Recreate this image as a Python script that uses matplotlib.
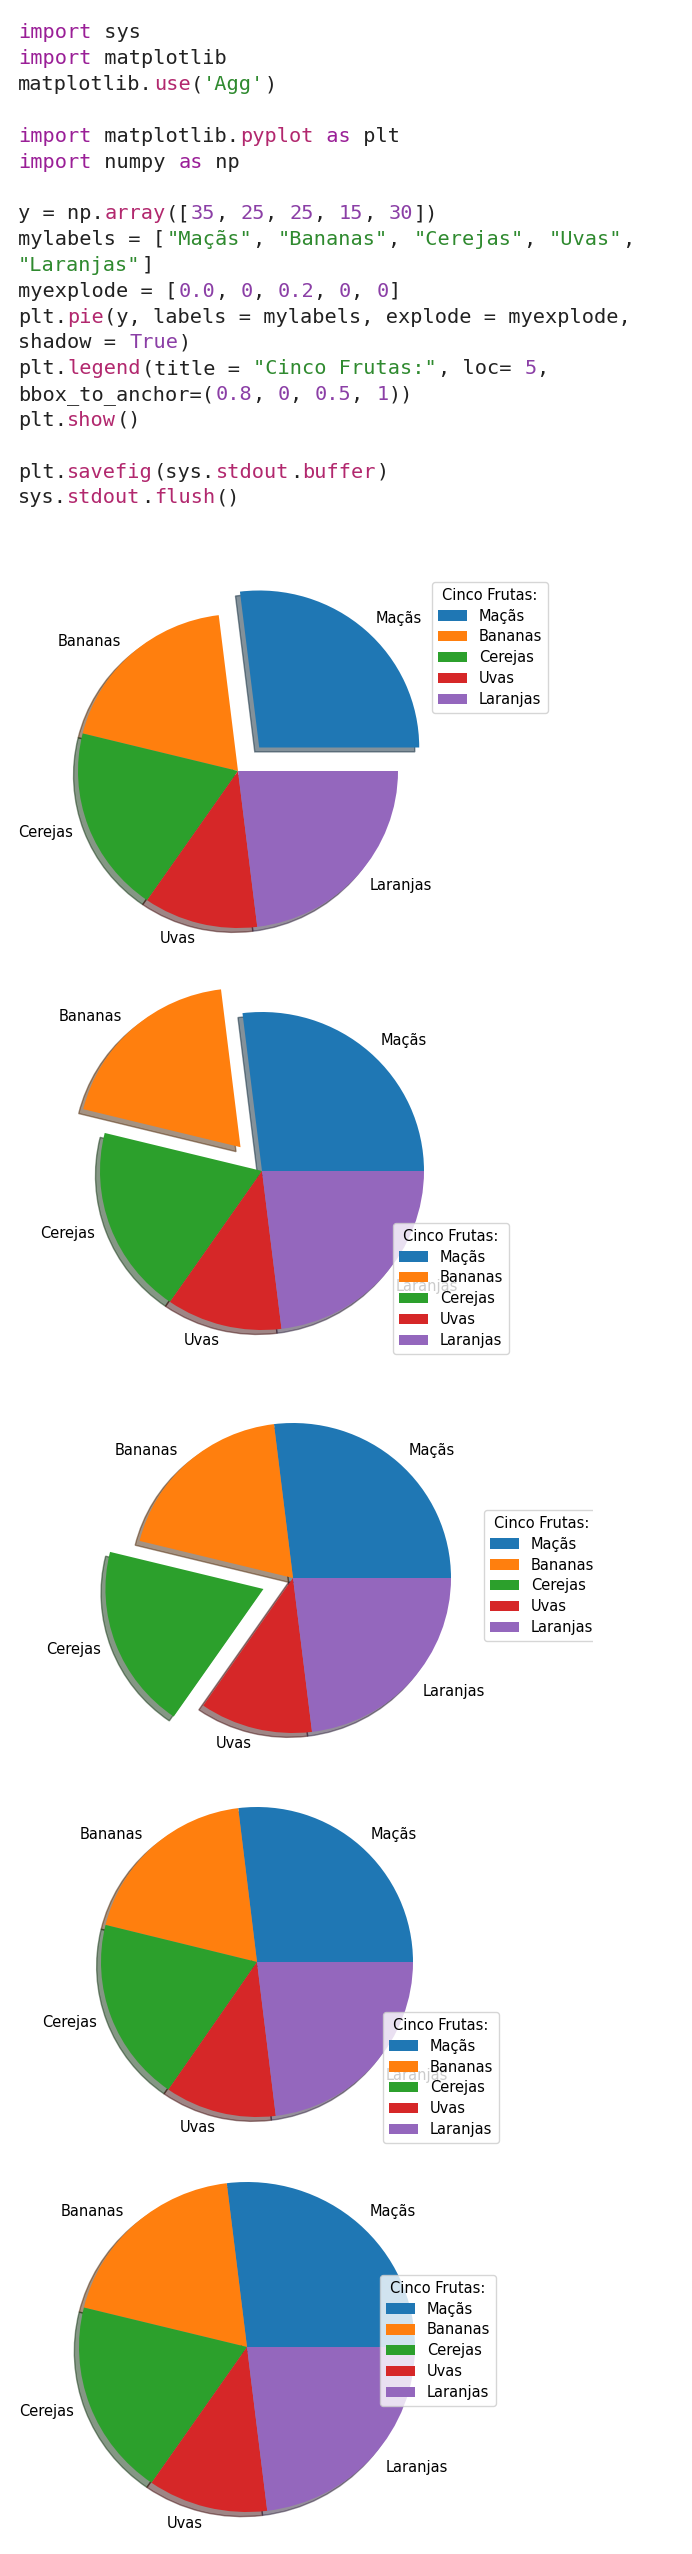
import matplotlib
matplotlib.use("Agg")
import matplotlib.pyplot as plt
from matplotlib.patches import Rectangle
import numpy as np

# ---------------- data ----------------
y = np.array([35, 25, 25, 15, 30])
mylabels = ["Maçãs", "Bananas", "Cerejas", "Uvas", "Laranjas"]
legend_title = "Cinco Frutas:"
explode_1 = [0.2, 0, 0, 0, 0]
explode_2 = [0, 0.2, 0, 0, 0]
explode_3 = [0, 0, 0.2, 0, 0]
explode_4 = [0, 0, 0, 0, 0]
explode_5 = [0, 0, 0, 0, 0]

W, H = 692, 2554
fig = plt.figure(figsize=(W / 100, H / 100), dpi=100)
fig.patch.set_facecolor("white")

# ---------------- code block ----------------
D = "#222222"   # plain
K = "#9a1f97"   # keywords
F = "#b2286e"   # functions/attrs
N = "#8b3fa6"   # numbers / True
S = "#2f8a2f"   # strings

code_lines = [
    [("import", K), (" sys", D)],
    [("import", K), (" matplotlib", D)],
    [("matplotlib.", D), ("use", F), ("(", D), ("'Agg'", S), (")", D)],
    [],
    [("import", K), (" matplotlib.", D), ("pyplot", F), (" as", K), (" plt", D)],
    [("import", K), (" numpy ", D), ("as", K), (" np", D)],
    [],
    [("y = np.", D), ("array", F), ("([", D), ("35", N), (", ", D), ("25", N), (", ", D),
     ("25", N), (", ", D), ("15", N), (", ", D), ("30", N), ("])", D)],
    [("mylabels = [", D), ('"Maçãs"', S), (", ", D), ('"Bananas"', S), (", ", D),
     ('"Cerejas"', S), (", ", D), ('"Uvas"', S), (",", D)],
    [('"Laranjas"', S), ("]", D)],
    [("myexplode = [", D), ("0.0", N), (", ", D), ("0", N), (", ", D), ("0.2", N),
     (", ", D), ("0", N), (", ", D), ("0", N), ("]", D)],
    [("plt.", D), ("pie", F), ("(y, labels = mylabels, explode = myexplode,", D)],
    [("shadow = ", D), ("True", N), (")", D)],
    [("plt.", D), ("legend", F), ("(title = ", D), ('"Cinco Frutas:"', S), (", loc= ", D),
     ("5", N), (",", D)],
    [("bbox_to_anchor=(", D), ("0.8", N), (", ", D), ("0", N), (", ", D), ("0.5", N),
     (", ", D), ("1", N), ("))", D)],
    [("plt.", D), ("show", F), ("()", D)],
    [],
    [("plt.", D), ("savefig", F), ("(sys.", D), ("stdout", F), (".", D), ("buffer", F), (")", D)],
    [("sys.", D), ("stdout", F), (".", D), ("flush", F), ("()", D)],
]

code_x0 = 18
code_y0 = 33
line_h = 25.83
char_w = 12.35
code_fs = 14.6
for i, toks in enumerate(code_lines):
    col = 0
    yy = code_y0 + i * line_h
    for txt, c in toks:
        fig.text((code_x0 + col * char_w) / W, 1 - yy / H, txt, color=c,
                 fontsize=code_fs, family="DejaVu Sans Mono", va="center", ha="left")
        col += len(txt)

# ---------------- pies ----------------
lab_fs = 10.5

pies = [
    # cx, cy, rx, ry (pixels), explode, legend (left, top)
    (238, 771, 160, 157, explode_1, (432, 582)),
    (262, 1171, 162, 159, explode_2, (393, 1223)),
    (293, 1578, 158, 155, explode_3, (484, 1510)),
    (257, 1962, 156, 155, explode_4, (383, 2012)),
    (247, 2347, 168, 165, explode_5, (380, 2275)),
]

for cx, cy, rx, ry, ex, (lx, ly) in pies:
    left = (cx - 1.25 * rx) / W
    bottom = 1 - (cy + 1.25 * ry) / H
    ax = fig.add_axes([left, bottom, 2.5 * rx / W, 2.5 * ry / H])
    ax.pie(y, labels=mylabels, explode=ex, shadow=True,
           textprops=dict(fontsize=lab_fs))
    ax.set_aspect("auto")
    ax.set_xlim(-1.25, 1.25)
    ax.set_ylim(-1.25, 1.25)
    ax.legend(title=legend_title, loc="upper left",
              bbox_to_anchor=(lx / W, 1 - ly / H), bbox_transform=fig.transFigure,
              borderaxespad=0, fontsize=lab_fs, title_fontsize=lab_fs,
              labelspacing=0.4)

# original screenshot of the third chart was cropped on the right
fig.add_artist(Rectangle((593 / W, 1 - 1790 / H), (W - 593) / W, 390 / H,
                         transform=fig.transFigure, facecolor="white",
                         edgecolor="none", zorder=10))

fig.savefig("out.png", dpi=100)
